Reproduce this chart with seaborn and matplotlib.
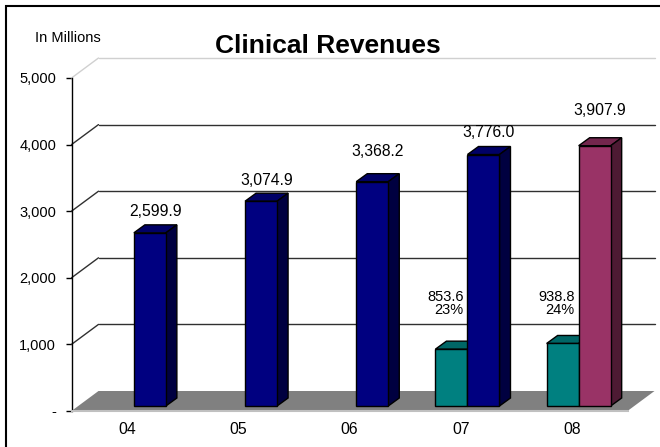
import numpy as np
import pandas as pd
import matplotlib
matplotlib.use('Agg')
import matplotlib.pyplot as plt
from matplotlib.patches import Polygon, Rectangle
import seaborn as sns

# data (in millions)
years = ['04', '05', '06', '07', '08']
total_rev = [2599.9, 3074.9, 3368.2, 3776.0, 3907.9]
part_years = ['07', '08']
part_rev = [853.6, 938.8]
y_ticks = [0, 1000, 2000, 3000, 4000, 5000]
y_tick_labels = ['-', '1,000', '2,000', '3,000', '4,000', '5,000']

# extra lift (px) of each total label above its bar, as placed in the original
label_lift = [6, 5, 15, 7, 20]

navy = ('#000080', '#000066', '#000040')
teal = ('#008080', '#006666', '#004040')
plum = ('#993366', '#73264d', '#4d1a33')

df = pd.concat([
    pd.DataFrame({'year': years, 'series': 'total', 'value': total_rev}),
    pd.DataFrame({'year': part_years, 'series': 'part', 'value': part_rev}),
], ignore_index=True)

sns.set_theme(style='white')
plt.rcParams['font.family'] = ['Liberation Sans', 'DejaVu Sans']
plt.rcParams['text.color'] = 'black'
plt.rcParams['xtick.labelcolor'] = 'black'
plt.rcParams['ytick.labelcolor'] = 'black'

W, H = 660, 447
fig = plt.figure(figsize=(W / 100, H / 100), dpi=100)
ax = fig.add_axes([71.5 / W, 36 / H, 556 / W, 333 / H])
ax.set_xlim(-0.5, 4.5)
ax.set_ylim(0, 5000)

# pixel -> data helpers (axes is 556 x 333 px)
def px_x(p):
    return p / (556 / 5)

def px_y(p):
    return p * 5000 / 333

wall_dx, wall_dy = px_x(27), px_y(20)

# floor
floor = Polygon([(-0.5, 0), (-0.5 + wall_dx, wall_dy), (4.5 + wall_dx, wall_dy), (4.5, 0)],
                closed=True, facecolor='#808080', edgecolor='none', zorder=1, clip_on=False)
ax.add_patch(floor)

# back wall gridlines and the diagonals to the front axis
for v in y_ticks[1:]:
    col = '#d0d0d0' if v == 5000 else '#303030'
    ax.plot([-0.5, -0.5 + wall_dx], [v, v + wall_dy], color=col, lw=1, clip_on=False, zorder=1)
    ax.plot([-0.5 + wall_dx, 4.5 + wall_dx], [v + wall_dy, v + wall_dy], color=col, lw=1,
            clip_on=False, zorder=1)

sns.barplot(data=df, x='year', y='value', hue='series', hue_order=['part', 'total'],
            order=years, palette={'part': teal[0], 'total': navy[0]}, width=0.576,
            edgecolor='black', linewidth=1, legend=False, ax=ax, zorder=4)

shift_x, shift_y = px_x(6.75), px_y(5)
dep_x, dep_y = px_x(11), px_y(8)

for p in list(ax.patches):
    if not isinstance(p, Rectangle) or p.get_height() <= 0 or p is floor:
        continue
    x, w, h = p.get_x(), p.get_width(), p.get_height()
    cx = x + w / 2
    cat = int(round(cx))
    right = cx > cat
    shades = (plum if cat == 4 else navy) if right else teal
    p.set_x(x + shift_x)
    p.set_y(shift_y)
    p.set_facecolor(shades[0])
    p.set_clip_on(False)
    x0, x1 = x + shift_x, x + shift_x + w
    y0, y1 = shift_y, shift_y + h
    top = Polygon([(x0, y1), (x0 + dep_x, y1 + dep_y), (x1 + dep_x, y1 + dep_y), (x1, y1)],
                  closed=True, facecolor=shades[1], edgecolor='black', lw=1, zorder=3, clip_on=False)
    side = Polygon([(x1, y0), (x1, y1), (x1 + dep_x, y1 + dep_y), (x1 + dep_x, y0 + dep_y)],
                   closed=True, facecolor=shades[2], edgecolor='black', lw=1, zorder=3, clip_on=False)
    ax.add_patch(top)
    ax.add_patch(side)
    if right:
        ax.text(cx + shift_x + dep_x / 2, y1 + dep_y + px_y(label_lift[cat]), f'{h:,.1f}',
                ha='center', va='bottom', fontsize=11.3, color='black', zorder=6)
    else:
        tot = total_rev[cat]
        ax.text(x1 - px_x(4), 1411, f'{h:,.1f}\n{h / tot:.0%}', ha='right', va='bottom',
                multialignment='right', linespacing=0.95, fontsize=10.5, color='black', zorder=6)

# axes styling
ax.set_xlabel('')
ax.set_ylabel('')
ax.set_yticks(y_ticks, y_tick_labels)
ax.tick_params(axis='y', direction='out', length=4.5, width=1, color='black', pad=6.5,
               labelsize=10.5, labelcolor='black', left=True)
ax.tick_params(axis='x', length=0, pad=8, labelsize=11.3, labelcolor='black')
ax.set_xticks(np.arange(-0.5, 5, 1), minor=True)
ax.tick_params(axis='x', which='minor', direction='inout', length=3, width=1.5, color='white',
               bottom=True)
for s in ['top', 'right']:
    ax.spines[s].set_visible(False)
ax.spines['left'].set_color('black')
ax.spines['left'].set_linewidth(1)
ax.spines['bottom'].set_color('#c0c0c0')
ax.spines['bottom'].set_linewidth(1.5)
ax.patch.set_alpha(0)

fig.text(328 / W, 1 - 46 / H, 'Clinical Revenues', ha='center', va='center',
         fontsize=19, fontweight='bold', color='black')
fig.text(35 / W, 1 - 38 / H, 'In Millions', ha='left', va='center', fontsize=10.5, color='black')

fig.patches.append(Rectangle((6 / W, -0.1), 1.2, 1.1 - 6.5 / H, transform=fig.transFigure,
                             fill=False, edgecolor='black', lw=1.5))

fig.savefig('out.png', dpi=100)
